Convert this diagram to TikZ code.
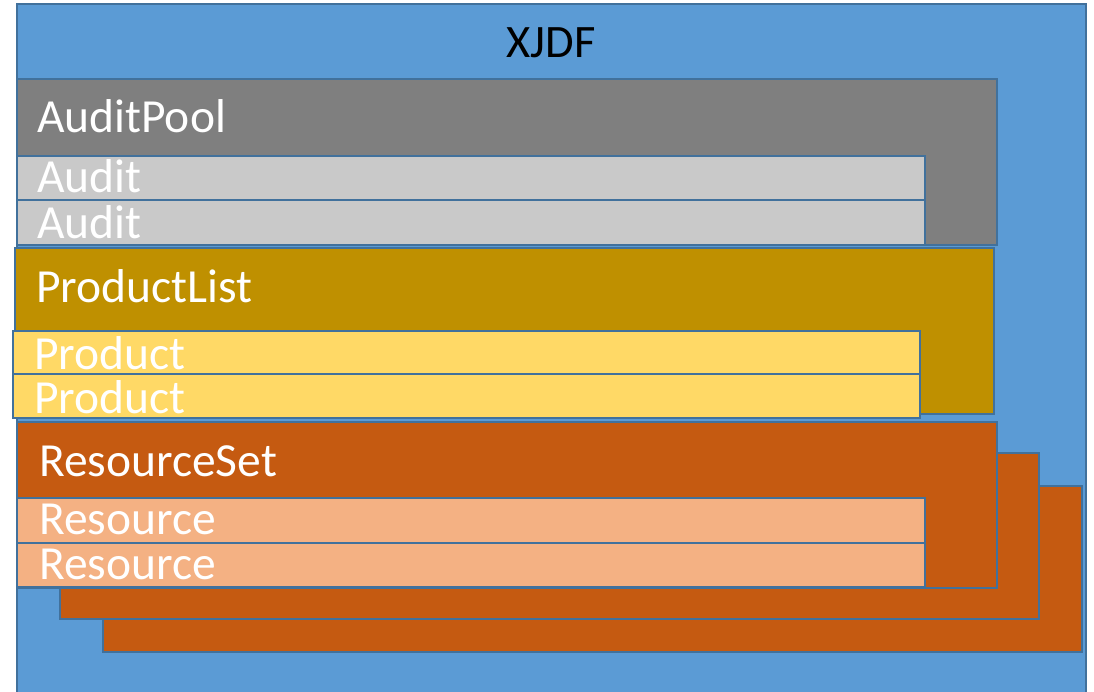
\documentclass[tikz,border=0pt]{standalone}
\usepackage{fontspec}
\setmainfont{Carlito}
\definecolor{bluefill}{HTML}{5B9BD5}
\definecolor{bordercol}{HTML}{41719C}
\definecolor{poolgray}{HTML}{7F7F7F}
\definecolor{itemgray}{HTML}{C9C9C9}
\definecolor{listgold}{HTML}{BF9000}
\definecolor{itemgold}{HTML}{FFD966}
\definecolor{setorange}{HTML}{C55A11}
\definecolor{itemorange}{HTML}{F4B183}
\tikzset{
  box/.style={draw=bordercol, line width=2.6pt},
  lbl/.style={anchor=base west, inner sep=0pt, text=white, font=\fontsize{47.5}{52}\selectfont},
}
\begin{document}
\begin{tikzpicture}[x=1pt,y=-1pt]
\useasboundingbox (0,0) rectangle (1094,692);
% outer XJDF
\path[box, fill=bluefill, line width=2.8pt] (17,4) rectangle (1086,705);
\node[anchor=base, inner sep=0pt, font=\fontsize{46.5}{50}\selectfont] (xjdf) at (551,58) {XJDF};
% AuditPool
\path[box, fill=poolgray] (17,79) rectangle (997,245);
\node[lbl] (auditpool) at (37,133) {AuditPool};
\path[box, fill=itemgray] (17,156) rectangle (925,200);
\node[lbl] (audit1) at (37,193) {Audit};
\path[box, fill=itemgray] (17,200) rectangle (925,245);
\node[lbl] (audit2) at (37,239) {Audit};
% ProductList
\path[box, fill=listgold] (15,248) rectangle (994,414);
\node[lbl] (productlist) at (36,302) {ProductList};
\path[box, fill=itemgold] (13,331) rectangle (920,374);
\node[lbl] (product1) at (34,369) {Product};
\path[box, fill=itemgold] (13,374) rectangle (920,418);
\node[lbl] (product2) at (34,413) {Product};
% ResourceSets (back)
\path[box, fill=setorange] (103,486) rectangle (1082,652);
\path[box, fill=setorange] (60,453) rectangle (1039,619);
% ResourceSet (front)
\path[box, fill=setorange] (17,422) rectangle (997,588);
\node[lbl] (resourceset) at (39,476) {ResourceSet};
\path[box, fill=itemorange] (17,498) rectangle (925,543);
\node[lbl] (resource1) at (39,534) {Resource};
\path[box, fill=itemorange] (17,543) rectangle (925,587);
\node[lbl] (resource2) at (39,579) {Resource};
\end{tikzpicture}
\end{document}
